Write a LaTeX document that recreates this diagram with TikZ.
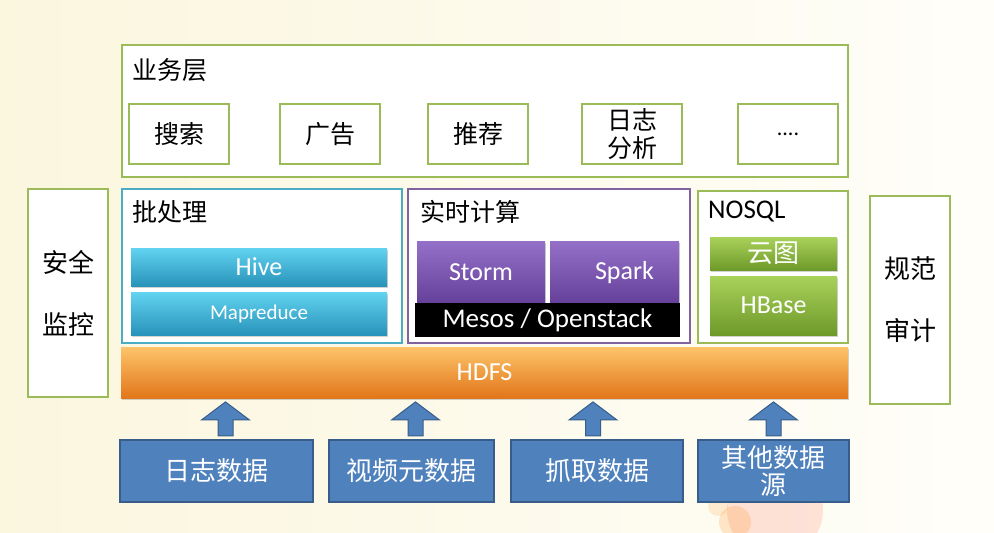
\documentclass[tikz,border=0pt]{standalone}
\usepackage{fontspec}
\setmainfont{Carlito}
\newfontfamily\cjk{Noto Sans CJK SC}
\usetikzlibrary{shapes.arrows, shadows, calc}
\definecolor{colFrame}  {HTML}{9BBB59}
\definecolor{colBatch}  {HTML}{4BACC6}
\definecolor{colReal}   {HTML}{8064A2}
\definecolor{colSrc}    {HTML}{4F81BD}
\definecolor{colSrcLine}{HTML}{385D8A}
\definecolor{colBgL}    {HTML}{FBF6DE}
\definecolor{colBgR}    {HTML}{FFFEF9}
\definecolor{colHiveT}  {HTML}{62D3F0}
\definecolor{colHiveB}  {HTML}{2893BA}
\definecolor{colPurT}   {HTML}{9570C8}
\definecolor{colPurB}   {HTML}{64409A}
\definecolor{colGrnT}   {HTML}{A9D25A}
\definecolor{colGrnB}   {HTML}{6E9A2A}
\definecolor{colOrgT}   {HTML}{FDC46A}
\definecolor{colOrgM}   {HTML}{F8922F}
\definecolor{colOrgB}   {HTML}{E2761A}
\tikzset{
  frame/.style  = {draw=colFrame, line width=2.6pt, fill=white, inner sep=0pt},
  batch/.style  = {frame, draw=colBatch},
  realt/.style  = {frame, draw=colReal},
  zh/.style     = {font=\cjk\fontsize{25pt}{28pt}\selectfont, align=center},
  lbl/.style    = {zh, anchor=west, inner sep=0pt},
  bar/.style    = {inner sep=0pt, text=white, font=\fontsize{26pt}{28pt}\selectfont,
                   drop shadow={opacity=0.35, shadow xshift=1pt, shadow yshift=-2pt}},
  zhive/.style  = {bar, top color=colHiveT, bottom color=colHiveB},
  zstorm/.style = {bar, top color=colPurT, bottom color=colPurB},
  znosql/.style = {bar, top color=colGrnT, bottom color=colGrnB},
  zsrc/.style   = {fill=colSrc, draw=colSrcLine, line width=1.6pt, inner sep=0pt,
                   text=white, font=\cjk\fontsize{26pt}{29pt}\selectfont, align=center,
                   minimum height=62pt},
  uparr/.style  = {single arrow, rotate=90, fill=colSrc, draw=colSrcLine,
                   line width=1pt, inner xsep=0pt, inner ysep=7pt, minimum width=48pt,
                   single arrow head extend=16.5pt, single arrow tip angle=106,
                   minimum height=34pt},
}

\begin{document}
\begin{tikzpicture}[x=1pt, y=-1pt]
\useasboundingbox (0,0) rectangle (994,533);

%% ── background ──────────────────────────────────────────────────────────────
\shade[left color=colBgL, right color=colBgR] (0,0) rectangle (994,533);
\begin{scope}
  \clip (0,0) rectangle (994,533);
  \fill[red!70!orange, opacity=0.12] (775,510) circle (48);
  \fill[orange, opacity=0.18] (735,522) circle (16);
  \fill[orange, opacity=0.14] (718,506) circle (10);
\end{scope}

%% ── business layer ──────────────────────────────────────────────────────────
\node[frame, minimum width=726pt, minimum height=132pt] (biz) at (485,111) {};
\node[lbl] (bizlbl) at (132,70) {业务层};
\node[frame, zh, minimum width=100pt, minimum height=60pt] (search) at (179,134) {搜索};
\node[frame, zh, minimum width=100pt, minimum height=60pt] (ads)    at (330,134) {广告};
\node[frame, zh, minimum width=100pt, minimum height=60pt] (recom)  at (478,134) {推荐};
\node[frame, zh, minimum width=100pt, minimum height=60pt] (logan)  at (632,134) {日志\\分析};
\node[frame, minimum width=100pt, minimum height=60pt,
      font=\fontsize{22pt}{24pt}\selectfont] (more) at (788,134) {....};

%% ── side boxes ──────────────────────────────────────────────────────────────
\node[frame, zh, font=\cjk\fontsize{26pt}{62pt}\selectfont,
      minimum width=80pt, minimum height=208pt] (secmon) at (68,293)  {安全\\监控};
\node[frame, zh, font=\cjk\fontsize{26pt}{62pt}\selectfont,
      minimum width=80pt, minimum height=208pt] (audit)  at (910,300) {规范\\审计};

%% ── batch processing ────────────────────────────────────────────────────────
\node[batch, minimum width=280pt, minimum height=154pt] (batchbox) at (262,266) {};
\node[lbl] (batchlbl) at (132,212) {批处理};
\node[zhive, minimum width=256pt, minimum height=38pt] (hive)   at (259,267)   {Hive};
\node[zhive, minimum width=256pt, minimum height=43pt,
      font=\fontsize{21pt}{23pt}\selectfont]          (mapred) at (259,313.5) {Mapreduce};

%% ── real-time computing ─────────────────────────────────────────────────────
\node[realt, minimum width=282pt, minimum height=154pt] (realbox) at (549,266) {};
\node[lbl] (reallbl) at (420,212) {实时计算};
\node[zstorm, minimum width=128pt, minimum height=63pt] (storm) at (481,272.5)   {Storm};
\node[zstorm, minimum width=129pt, minimum height=63pt] (spark) at (614.5,272.5) {\hspace{20pt}Spark};
\node[fill=black, text=white, inner sep=0pt, minimum width=265pt, minimum height=34pt,
      font=\fontsize{27pt}{29pt}\selectfont] (mesos) at (547.5,320) {Mesos / Openstack};

%% ── nosql ───────────────────────────────────────────────────────────────────
\node[frame, minimum width=150pt, minimum height=152pt] (nosqlbox) at (773,267) {};
\node[lbl, font=\fontsize{27pt}{29pt}\selectfont] (nosqllbl) at (708,212) {NOSQL};
\node[znosql, minimum width=127pt, minimum height=33pt,
      font=\cjk\fontsize{26pt}{28pt}\selectfont] (cloud) at (773.5,253.5) {云图};
\node[znosql, minimum width=127pt, minimum height=59pt] (hbase) at (773.5,305.5) {HBase};

%% ── hdfs ────────────────────────────────────────────────────────────────────
\node[bar, top color=colOrgT, middle color=colOrgM, bottom color=colOrgB,
      minimum width=727pt, minimum height=51pt] (hdfs) at (484.5,372.5) {HDFS};

%% ── data sources ────────────────────────────────────────────────────────────
\node[zsrc, minimum width=193pt] (src1) at (216.5,471) {日志数据};
\node[zsrc, minimum width=165pt] (src2) at (411.5,471) {视频元数据};
\node[zsrc, minimum width=172pt] (src3) at (597,471)   {抓取数据};
\node[zsrc, minimum width=151pt, font=\cjk\fontsize{26pt}{27pt}\selectfont]
      (src4) at (773.5,471) {其他数据\\源};

%% ── up arrows ───────────────────────────────────────────────────────────────
\node[uparr] (up1) at ([xshift=9pt, yshift=-3pt]$(src1.north)!0.5!(src1.north |- hdfs.south)$) {};
\node[uparr] (up2) at ([xshift=4pt, yshift=-3pt]$(src2.north)!0.5!(src2.north |- hdfs.south)$) {};
\node[uparr] (up3) at ([xshift=-4pt, yshift=-3pt]$(src3.north)!0.5!(src3.north |- hdfs.south)$) {};
\node[uparr] (up4) at ([yshift=-3pt]$(src4.north)!0.5!(src4.north |- hdfs.south)$) {};

\end{tikzpicture}
\end{document}
